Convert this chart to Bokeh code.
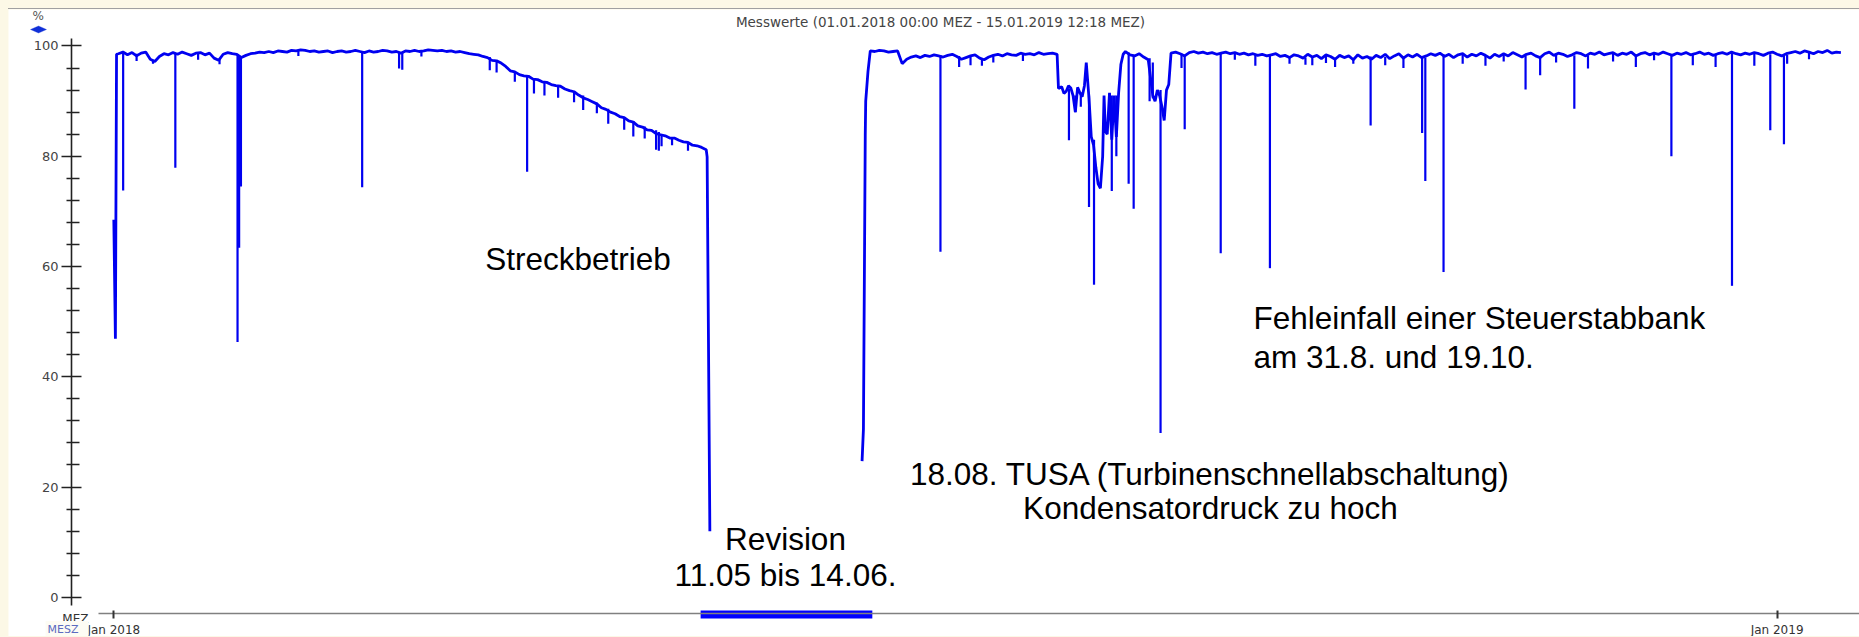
import pandas as pd
from bokeh.plotting import figure
from bokeh.models import (Range1d, FixedTicker, Label, DatetimeTickFormatter,
                          PolyAnnotation, ColumnDataSource)
from bokeh.embed import file_html
from bokeh.resources import INLINE

# ---------------- data ----------------
START = "2018-01-01"          # day 0 of the series

# daily mean level in %, index = days since START (None = plant off / Revision)
daily_pct = [
    68.5, 98.6, 98.9, 98.4, 98.8, 98.2, 98.7, 98.9, 97.6, 97.2,   # 0
    98.1, 98.6, 98.4, 98.8, 98.5, 98.9, 98.6, 98.3, 98.7, 98.8,   # 10
    98.4, 98.7, 97.8, 97.4, 98.5, 98.8, 98.6, 98.5, 97.9, 98.3,   # 20
    98.6, 98.7, 98.9, 98.8, 99.0, 98.8, 99.1, 99.0, 98.9, 99.2,   # 30
    99.1, 99.3, 99.2, 99.0, 99.1, 98.9, 99.0, 99.1, 98.8, 99.0,   # 40
    99.1, 98.9, 99.0, 99.2, 99.0, 98.8, 99.1, 98.9, 99.0, 99.2,   # 50
    99.1, 98.9, 99.0, 98.7, 99.1, 99.0, 99.2, 99.0, 99.1, 99.3,   # 60
    99.2, 99.1, 99.2, 99.0, 99.1, 98.9, 99.0, 98.8, 98.6, 98.5,   # 70
    98.4, 98.1, 97.9, 97.4, 97.3, 96.9, 96.3, 95.5, 95.3, 94.8,   # 80
    94.6, 94.5, 94.0, 93.9, 93.5, 93.4, 93.0, 92.8, 92.7, 92.2,   # 90
    91.9, 91.7, 91.1, 90.6, 90.3, 89.9, 89.5, 88.8, 88.5, 88.0,   # 100
    87.7, 87.2, 87.0, 86.4, 86.2, 85.5, 85.3, 84.8, 84.7, 84.1,   # 110
    83.9, 83.7, 83.3, 83.3, 82.9, 82.6, 82.5, 82.0, 81.9, 81.6,   # 120
    81.2, None, None, None, None, None, None, None, None, None,   # 130
    None, None, None, None, None, None, None, None, None, None,   # 140
    None, None, None, None, None, None, None, None, None, None,   # 150
    None, None, None, None, None, 90.0, 99.1, 99.0, 99.2, 99.1,   # 160
    98.9, 99.0, 99.1, 96.8, 97.6, 98.0, 98.2, 97.9, 98.3, 98.1,   # 170
    98.4, 98.2, 98.0, 98.3, 98.5, 98.1, 97.6, 97.9, 98.2, 98.4,   # 180
    97.8, 97.5, 98.0, 98.3, 98.5, 98.2, 98.6, 98.4, 98.3, 98.7,   # 190
    98.5, 98.6, 98.4, 98.8, 98.5, 98.6, 98.7, 98.5, 92.6, 91.8,   # 200
    92.4, 88.0, 91.5, 92.8, 90.5, 82.0, 75.0, 80.0, 84.0, 83.0,   # 210
    83.5, 96.7, 99.0, 98.4, 98.2, 98.6, 98.0, 97.5, 91.0, 92.0,   # 220
    89.0, 92.0, 98.7, 98.9, 98.6, 98.2, 98.8, 99.0, 98.7, 98.9,   # 230
    98.6, 98.8, 98.5, 98.7, 98.9, 98.6, 98.8, 98.5, 98.7, 98.4,   # 240
    98.6, 98.3, 98.5, 98.2, 98.4, 98.6, 98.1, 98.3, 97.9, 98.4,   # 250
    98.2, 97.8, 98.5, 98.0, 98.3, 97.7, 98.4, 98.1, 97.6, 98.3,   # 260
    97.9, 98.2, 97.5, 98.4, 97.8, 98.1, 97.6, 98.3, 97.9, 98.5,   # 270
    97.7, 98.2, 98.6, 97.8, 98.4, 98.0, 98.5, 97.9, 98.2, 98.6,   # 280
    98.3, 98.7, 98.1, 98.5, 97.9, 98.4, 98.6, 98.0, 98.5, 98.2,   # 290
    98.7, 98.3, 97.8, 98.5, 98.1, 98.6, 98.2, 98.8, 98.4, 98.0,   # 300
    98.5, 98.7, 98.2, 97.9, 98.6, 98.9, 98.3, 98.7, 98.5, 98.1,   # 310
    98.4, 98.8, 98.6, 98.2, 98.7, 98.5, 98.9, 98.4, 98.6, 98.8,   # 320
    98.3, 98.7, 98.5, 98.9, 98.2, 98.6, 98.8, 98.4, 98.7, 98.5,   # 330
    98.9, 98.6, 98.3, 98.7, 98.5, 98.8, 98.4, 98.6, 98.9, 98.5,   # 340
    98.7, 98.3, 98.6, 98.8, 98.5, 98.9, 98.6, 98.4, 98.7, 98.5,   # 350
    98.8, 98.6, 98.3, 98.7, 98.9, 98.5, 98.2, 98.6, 98.8, 99.0,   # 360
    98.7, 99.1, 98.9, 98.6, 99.0, 98.8, 99.2, 98.7, 98.9, 98.8,   # 370
]

# sub-daily points (shut-down, restart, August disturbances)
extra_day = [0.35, 0.6, 130.2, 130.8, 164.2, 164.5, 164.9, 165.5, 207.3,
             208.5, 209.5, 210.5, 211.5, 212.5, 213.4, 214.5, 215.5, 216.5,
             217.3, 217.6, 218.5, 219.5, 220.5, 221.5, 228.5, 229.5, 230.5, 231.5]
extra_pct = [46.9, 98.5, 79.9, 12.0, 24.7, 30.5, 83.9, 95.4, 92.3,
             91.4, 92.8, 91.0, 92.5, 90.8, 97.0, 83.5, 78.0, 74.2,
             91.0, 84.5, 91.5, 91.0, 91.5, 98.5, 90.0, 91.0, 86.5, 93.0]

# short power drops (spikes): day, level before, lowest value
dip_day = [2.05, 5.0, 8.6, 13.5, 18.5, 23.2, 27.15, 27.5, 27.9, 40.5, 54.5, 62.6, 63.3, 67.5,
           82.5, 84.0, 88.0, 90.7, 92.2, 94.5, 97.5, 101.0, 103.0, 106.0, 108.5, 112.0,
           114.0, 116.5, 119.0, 119.6, 120.2, 122.5, 126.0,
           181.4, 185.5, 188.0, 190.5, 193.0, 199.5, 209.6, 211.0, 212.2, 214.0, 215.1,
           219.0, 220.0, 222.7, 223.8, 227.3, 228.0, 229.7, 234.3, 235.0, 242.9, 246.0,
           250.5, 253.7, 258.0, 261.5, 263.0, 266.0, 268.0, 272.0, 275.8, 279.0, 283.0,
           287.1, 287.8, 291.8, 296.0, 301.0, 305.0, 309.8, 313.0, 316.5, 320.5, 323.5,
           329.0, 334.0, 338.0, 341.8, 346.5, 351.5, 355.1, 360.0, 363.5, 366.5, 367.2, 372.0]
dip_top = [98.8, 98.6, 97.5, 98.7, 98.6, 97.6, 98.4, 98.3, 98.2, 99.2, 99.0, 98.9, 98.8, 99.1,
           98.0, 97.3, 95.3, 94.5, 94.2, 93.6, 92.8, 91.8, 91.0, 89.7, 88.6, 87.1,
           86.4, 85.4, 84.7, 84.4, 84.0, 83.4, 82.6,
           98.3, 98.2, 98.3, 97.8, 98.3, 98.6, 92.3, 91.0, 91.6, 91.0, 83.0,
           91.0, 91.0, 98.8, 98.4, 97.8, 97.0, 92.0, 98.6, 98.4, 98.6, 98.7,
           98.5, 98.3, 98.1, 97.9, 98.0, 98.2, 97.8, 97.6, 98.1, 98.0, 97.9,
           98.0, 97.9, 98.5, 98.4, 98.3, 98.5, 98.2, 98.1, 98.4, 98.3, 98.3,
           98.7, 98.3, 98.6, 98.5, 98.4, 98.4, 98.8, 98.7, 98.5, 98.3, 98.4, 99.0]
dip_bottom = [73.8, 97.3, 96.8, 77.9, 97.5, 96.7, 46.3, 63.4, 74.5, 98.2, 74.4, 95.9, 95.7, 98.1,
              95.6, 95.2, 93.5, 77.2, 91.4, 91.0, 90.6, 89.8, 88.4, 87.8, 85.9, 84.8,
              83.6, 83.2, 81.2, 81.0, 81.8, 82.0, 81.0,
              62.7, 96.2, 96.5, 96.4, 97.0, 97.3, 82.9, 88.0, 89.0, 70.8, 56.7,
              73.7, 80.0, 75.0, 70.5, 90.0, 90.5, 29.8, 96.0, 84.9, 62.4, 97.5,
              96.4, 59.7, 96.8, 96.6, 96.5, 96.9, 96.2, 96.8, 85.6, 96.5, 96.0,
              84.2, 75.5, 59.0, 96.8, 96.4, 97.2, 92.1, 94.7, 97.0, 88.6, 95.9,
              97.2, 96.2, 97.4, 80.0, 96.5, 96.2, 56.5, 96.4, 84.7, 82.2, 96.8, 97.6]

revision_start = "2018-05-09 18:30"
revision_end = "2018-06-16 10:50"

x_tick_dates = ["2018-01-01", "2019-01-01"]
y_major = [0, 20, 40, 60, 80, 100]
y_minor = [4, 8, 12, 16, 24, 28, 32, 36, 44, 48, 52, 56, 64, 68, 72, 76, 84, 88, 92, 96]

title_text = "Messwerte (01.01.2018 00:00 MEZ - 15.01.2019 12:18 MEZ)"

# ---------------- build ----------------
t0 = pd.Timestamp(START)


def at(day):
    return t0 + pd.Timedelta(days=day)


def ms(ts):
    return pd.Timestamp(ts).value / 1e6


times = [at(i) for i in range(len(daily_pct))] + [at(d) for d in extra_day]
vals = [float("nan") if v is None else v for v in daily_pct] + list(extra_pct)
df = pd.DataFrame({"t": times, "v": vals}).sort_values("t").reset_index(drop=True)
line_src = ColumnDataSource(df)
dip_src = ColumnDataSource(dict(x=[at(d) for d in dip_day], y0=dip_top, y1=dip_bottom))

BLUE = "#0000f0"

# the frame covers the whole canvas; the axes are drawn at fixed positions inside it
p = figure(width=1851, height=628, output_backend="svg", toolbar_location=None,
           x_axis_type="datetime",
           x_range=Range1d(start=pd.Timestamp("2017-12-08 21:22"), end=pd.Timestamp("2019-01-19 01:55")),
           y_range=Range1d(start=-7.29, end=106.62),
           min_border_left=0, min_border_right=0, min_border_top=0, min_border_bottom=0)
p.styles = {"border-top": "1px solid #a0a0a0"}
p.background_fill_color = "white"
p.border_fill_color = "white"
p.outline_line_color = None
p.grid.visible = False

p.line("t", "v", source=line_src, line_color=BLUE, line_width=2.8)
p.segment(x0="x", y0="y0", x1="x", y1="y1", source=dip_src, line_color=BLUE, line_width=2.2)

# Revision bar on the time axis
p.quad(left=[pd.Timestamp(revision_start)], right=[pd.Timestamp(revision_end)],
       top=[-2.39], bottom=[-3.85], fill_color="#0000ff", line_color=None)

# axes
fmt = "%b %Y"
xa = p.xaxis[0]
xa.fixed_location = -2.94
xa.bounds = (ms("2017-12-28 15:22"), ms("2019-01-19 01:55"))
xa.ticker = FixedTicker(ticks=[ms(d) for d in x_tick_dates])
xa.formatter = DatetimeTickFormatter(microseconds=fmt, milliseconds=fmt, seconds=fmt, minsec=fmt,
                                     minutes=fmt, hourmin=fmt, hours=fmt, days=fmt,
                                     months=fmt, years=fmt)
xa.axis_line_color = "#808080"
xa.axis_line_width = 1.5
xa.major_tick_in = 3
xa.major_tick_out = 5
xa.major_tick_line_color = "#333333"
xa.major_tick_line_width = 2
xa.minor_tick_line_color = None
xa.major_label_text_font = "DejaVu Sans"
xa.major_label_text_font_size = "12px"
xa.major_label_text_color = "#333333"
xa.major_label_standoff = 4

ya = p.yaxis[0]
ya.fixed_location = ms("2017-12-22 17:17")
ya.bounds = (-1.49, 101.36)
ya.ticker = FixedTicker(ticks=y_major, minor_ticks=y_minor)
ya.axis_line_color = "#222222"
ya.axis_line_width = 1.6
ya.major_tick_line_color = "#222222"
ya.major_tick_line_width = 1.5
ya.minor_tick_line_color = "#222222"
ya.minor_tick_line_width = 1.5
ya.major_tick_in = 10
ya.major_tick_out = 10
ya.minor_tick_in = 8
ya.minor_tick_out = 5
ya.major_label_text_font = "DejaVu Sans"
ya.major_label_text_font_size = "13px"
ya.major_label_text_color = "#444444"
ya.major_label_standoff = 3

# margin texts (screen units: x from the left edge, y up from the bottom edge)
p.add_layout(Label(x=932, y=616, x_units="screen", y_units="screen", text=title_text,
                   text_font="DejaVu Sans", text_font_size="13.5px", text_color="#444444",
                   text_align="center", text_baseline="middle"))
p.add_layout(Label(x=24, y=622, x_units="screen", y_units="screen", text="%",
                   text_font="DejaVu Sans", text_font_size="12px", text_color="#555555",
                   text_align="left", text_baseline="middle"))
p.add_layout(PolyAnnotation(xs=[22, 30, 38, 30], ys=[608, 611.5, 608, 604.5],
                            xs_units="screen", ys_units="screen",
                            fill_color="#1030d8", fill_alpha=1.0, line_color="#1030d8"))
p.add_layout(Label(x=80, y=19, x_units="screen", y_units="screen", text="MEZ",
                   text_font="DejaVu Sans", text_font_size="12px", text_color="#333333",
                   text_align="right", text_baseline="middle", level="overlay",
                   background_fill_color="white", background_fill_alpha=1.0))
p.add_layout(Label(x=80, y=7, x_units="screen", y_units="screen", text="MESZ",
                   text_font="DejaVu Sans", text_font_size="11px", text_color="#5b6bc0",
                   text_align="right", text_baseline="middle", level="overlay",
                   background_fill_color="#fdfcf4", background_fill_alpha=1.0,
                   padding=(2, 10, 2, 4)))

# annotation texts inside the chart (data units)
ann_font = "Liberation Sans"
ann_size = "31.5px"


def note(x, y, text, align):
    p.add_layout(Label(x=pd.Timestamp(x), y=y, text=text, text_font=ann_font,
                       text_font_size=ann_size, text_color="black",
                       text_align=align, text_baseline="middle"))


note("2018-03-23 12:00", 61.3, "Streckbetrieb", "left")
note("2018-09-08 02:24", 50.6, "Fehleinfall einer Steuerstabbank", "left")
note("2018-09-08 02:24", 43.5, "am 31.8. und 19.10.", "left")
note("2018-08-29 15:50", 22.4, "18.08. TUSA (Turbinenschnellabschaltung)", "center")
note("2018-08-29 15:50", 16.2, "Kondensatordruck zu hoch", "center")
note("2018-05-28 09:36", 10.6, "Revision", "center")
note("2018-05-28 09:36", 4.1, "11.05 bis 14.06.", "center")

html = file_html(p, INLINE)
page_css = ("<style>html, body { background-color: #fcf8e6 !important; } "
            "body { padding: 8px 0 0 8px !important; margin: 0 !important; }</style>")
if "</head>" in html:
    html = html.replace("</head>", page_css + "</head>", 1)
else:
    html = page_css + html
open("out.html", "w").write(html)
